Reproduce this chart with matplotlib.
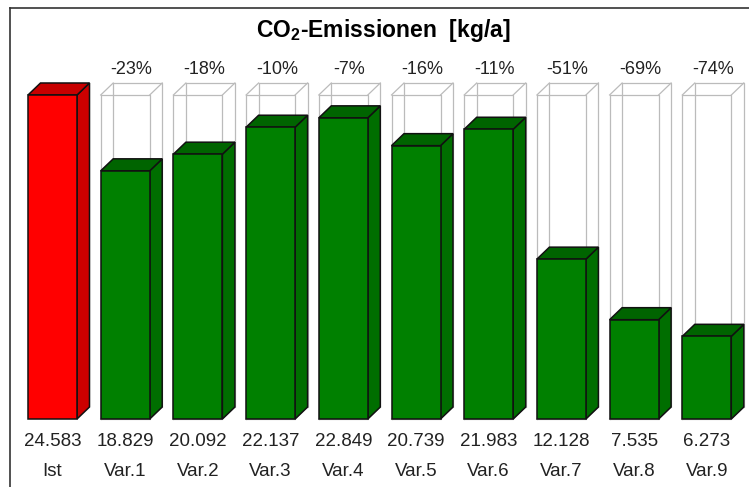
import matplotlib.pyplot as plt
from matplotlib.patches import Polygon
from matplotlib.lines import Line2D

plt.rcParams['font.family'] = ['Liberation Sans', 'DejaVu Sans']
plt.rcParams['mathtext.default'] = 'regular'

categories = ["Ist", "Var.1", "Var.2", "Var.3", "Var.4", "Var.5",
              "Var.6", "Var.7", "Var.8", "Var.9"]
values = [24.583, 18.829, 20.092, 22.137, 22.849, 20.739,
          21.983, 12.128, 7.535, 6.273]
value_labels = ["24.583", "18.829", "20.092", "22.137", "22.849", "20.739",
                "21.983", "12.128", "7.535", "6.273"]
pct_labels = ["", "-23%", "-18%", "-10%", "-7%", "-16%",
              "-11%", "-51%", "-69%", "-74%"]

W, H = 749, 487
fig = plt.figure(figsize=(W / 100, H / 100), dpi=100)
ax = fig.add_axes([0, 0, 1, 1])

# pixel -> data scale
step_px = 72.7
x0_px = 52.5
unit_px = 13.18
base_px = 68
ax.set_xlim(-x0_px / step_px, (W - x0_px) / step_px)
ax.set_ylim(-base_px / unit_px, (H - base_px) / unit_px)
ax.axis('off')

bw = 49 / step_px          # front face width
dx = 12.5 / step_px        # depth offset x
dy = 12 / unit_px          # depth offset y


def box(ax, xc, h, front, top, side):
    l, r = xc - bw / 2, xc + bw / 2
    ax.add_patch(Polygon([(r, 0), (r + dx, dy), (r + dx, h + dy), (r, h)],
                         closed=True, fc=side, ec='#111111', lw=1.1, zorder=3))
    ax.add_patch(Polygon([(l, h), (r, h), (r + dx, h + dy), (l + dx, h + dy)],
                         closed=True, fc=top, ec='#111111', lw=1.1, zorder=3))
    ax.add_patch(Polygon([(l, 0), (r, 0), (r, h), (l, h)],
                         closed=True, fc=front, ec='#111111', lw=1.1, zorder=3))


def ghost(ax, xc, h):
    l, r = xc - bw / 2, xc + bw / 2
    kw = dict(color='#bbbbbb', lw=0.9, zorder=2)
    ax.plot([l, r, r, l, l], [0, 0, h, h, 0], **kw)
    ax.plot([l + dx, r + dx, r + dx, l + dx, l + dx],
            [dy, dy, h + dy, h + dy, dy], **kw)
    for px, py in [(l, 0), (r, 0), (r, h), (l, h)]:
        ax.plot([px, px + dx], [py, py + dy], **kw)


ref = values[0]
for i, (cat, v) in enumerate(zip(categories, values)):
    if i == 0:
        box(ax, i, v, '#ff0000', '#c80000', '#cc0000')
    else:
        ghost(ax, i, ref)
        box(ax, i, v, '#008000', '#006400', '#006e00')
        ax.text(i + dx / 2, ref + dy + 13 / unit_px, pct_labels[i],
                ha='center', va='center', fontsize=13, color='#222222')
    ax.text(i, -22 / unit_px, value_labels[i], ha='center', va='center',
            fontsize=13.5, color='#222222')
    ax.text(i, -52 / unit_px, cat, ha='center', va='center',
            fontsize=13.5, color='#222222')

fig.text(383 / W, 1 - 30 / H, "CO$_2$-Emissionen  [kg/a]", ha='center',
         va='center', fontsize=16.5, fontweight='bold')

# outer frame (left and top edges visible)
fig.add_artist(Line2D([10 / W, 10 / W], [0, 1 - 8 / H], transform=fig.transFigure,
                      color='#333333', lw=1.2))
fig.add_artist(Line2D([10 / W, 1], [1 - 8 / H, 1 - 8 / H], transform=fig.transFigure,
                      color='#333333', lw=1.2))

fig.savefig("out.png", dpi=100)
